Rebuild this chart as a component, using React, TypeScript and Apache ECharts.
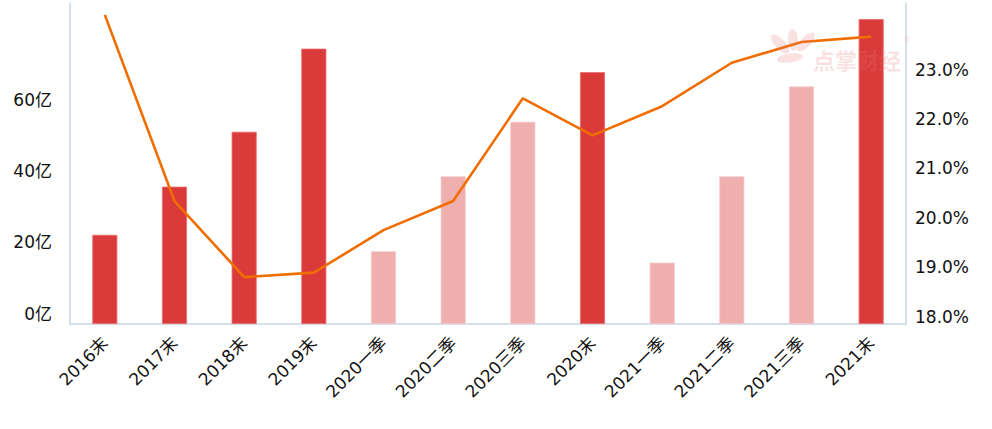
import React, { useEffect, useRef } from "react";
import * as echarts from "echarts";

const categories = ["2016末", "2017末", "2018末", "2019末", "2020一季", "2020二季", "2020三季", "2020末", "2021一季", "2021二季", "2021三季", "2021末"];
const barValues = [25.0, 38.5, 53.9, 77.2, 20.4, 41.4, 56.7, 70.6, 17.2, 41.4, 66.6, 85.5];
const lineValues = [24.26, 20.49, 18.95, 19.04, 19.9, 20.49, 22.57, 21.82, 22.41, 23.29, 23.71, 23.82];
const leftTickMax = 60;
const rightTickMax = 23;

const DARK = "#DB3A3B";
const LIGHT = "#F0AFAF";
const AXIS = "#C6D4EA";
const FONT = "'DejaVu Sans', 'Noto Sans CJK SC', sans-serif";
const WM = "rgba(228,120,120,0.22)";

export default function App() {
  const ref = useRef<HTMLDivElement>(null);
  useEffect(() => {
    if (!ref.current) return;
    const chart = echarts.init(ref.current, undefined, { renderer: "svg" });
    const petal = (x: number, y: number, rx: number, ry: number, rot: number) => ({
      type: "ellipse",
      x,
      y,
      z: 100,
      rotation: rot,
      silent: true,
      shape: { cx: 0, cy: 0, rx, ry },
      style: { fill: WM },
    });
    chart.setOption({
      animation: false,
      backgroundColor: "#ffffff",
      grid: { left: 70, right: 86, top: 3, bottom: 105 },
      xAxis: {
        type: "category",
        data: categories,
        axisLine: { lineStyle: { color: AXIS, width: 1.5 } },
        axisTick: { show: false },
        axisLabel: { rotate: 45, fontSize: 17, color: "#111", fontFamily: FONT, margin: 16, interval: 0 },
      },
      yAxis: [
        {
          type: "value",
          min: 0,
          max: 90,
          interval: 20,
          splitLine: { show: false },
          axisTick: { show: false },
          axisLine: { show: true, lineStyle: { color: AXIS, width: 1.5 } },
          axisLabel: {
            fontSize: 17,
            color: "#111",
            fontFamily: FONT,
            margin: 18,
            verticalAlign: "bottom",
            lineHeight: 21,
            showMaxLabel: false,
            formatter: (v: number) => (v <= leftTickMax ? v + "亿" : ""),
          },
        },
        {
          type: "value",
          min: 18,
          max: 24.5,
          interval: 1,
          splitLine: { show: false },
          axisTick: { show: false },
          axisLine: { show: true, lineStyle: { color: AXIS, width: 1.5 } },
          axisLabel: {
            fontSize: 17,
            color: "#111",
            fontFamily: FONT,
            margin: 9,
            verticalAlign: "bottom",
            lineHeight: 15,
            showMaxLabel: false,
            formatter: (v: number) => (v <= rightTickMax + 1e-6 ? v.toFixed(1) + "%" : ""),
          },
        },
      ],
      series: [
        {
          type: "bar",
          yAxisIndex: 0,
          barWidth: 25,
          data: barValues.map((v, i) => ({
            value: v,
            itemStyle: {
              color: categories[i].endsWith("末") ? DARK : LIGHT,
              borderColor: categories[i].endsWith("末") ? "#E86A6B" : "#F5C8C8",
              borderWidth: 0.8,
            },
          })),
        },
        {
          type: "line",
          yAxisIndex: 1,
          data: lineValues,
          showSymbol: false,
          symbol: "none",
          lineStyle: { color: "#F06E00", width: 2.6 },
          z: 5,
        },
      ],
      graphic: [
        petal(780, 44, 5, 12, 0.75),
        petal(793, 40, 5, 11, 0.05),
        petal(806, 42, 5, 12, -0.75),
        petal(790, 58, 13, 4.5, 0.15),
        {
          type: "text",
          x: 813,
          y: 48,
          z: 100,
          silent: true,
          style: { text: "点掌财经", fontSize: 22, fontWeight: "bold", fill: WM, fontFamily: "'Noto Sans CJK SC', sans-serif" },
        },
        {
          type: "text",
          x: 903,
          y: 36,
          z: 100,
          silent: true,
          style: { text: "®", fontSize: 8, fill: WM, fontFamily: FONT },
        },
      ],
    });
    return () => chart.dispose();
  }, []);
  return <div ref={ref} style={{ position: "fixed", left: 0, top: 0, width: 992, height: 429 }} />;
}
